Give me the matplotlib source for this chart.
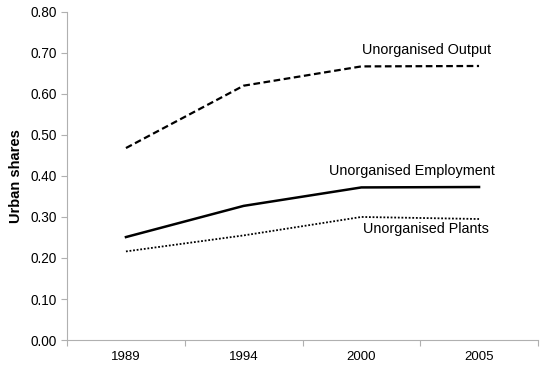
import numpy as np
import matplotlib.pyplot as plt

plt.rcParams['font.family'] = ['Liberation Sans', 'DejaVu Sans']

years = ["1989", "1994", "2000", "2005"]
output_share = [0.468, 0.620, 0.667, 0.668]
employment_share = [0.251, 0.327, 0.372, 0.373]
plants_share = [0.216, 0.255, 0.300, 0.295]

fig = plt.figure(figsize=(5.5, 3.7), dpi=100)
ax = fig.add_axes([0.122, 0.081, 0.856, 0.887])

x = np.arange(len(years))
ax.plot(x, output_share, color="black", lw=1.6, ls=(0, (3, 1.6)))
ax.plot(x, employment_share, color="black", lw=1.8, ls="-")
ax.plot(x, plants_share, color="black", lw=1.3, ls=(0, (1, 1)))

ax.text(2.55, 0.707, "Unorganised Output", ha="center", va="center", fontsize=10.4)
ax.text(2.43, 0.411, "Unorganised Employment", ha="center", va="center", fontsize=10.4)
ax.text(2.55, 0.270, "Unorganised Plants", ha="center", va="center", fontsize=10.4)

ax.set_xlim(-0.5, 3.5)
ax.set_ylim(0, 0.8)
ax.set_yticks(np.arange(0, 0.81, 0.1))
ax.set_yticklabels([f"{v:.2f}" for v in np.arange(0, 0.81, 0.1)], fontsize=9.8)
ax.set_xticks(np.arange(-0.5, 3.6, 1))
ax.set_xticklabels([])
ax.set_xticks(x, minor=True)
ax.set_xticklabels(years, minor=True, fontsize=9.5)
ax.tick_params(axis="x", which="minor", length=0, pad=8)
ax.tick_params(axis="both", which="major", length=4, color="#b0b0b0")
ax.set_ylabel("Urban shares", fontsize=10.5, fontweight="bold", labelpad=5)

for s in ["top", "right"]:
    ax.spines[s].set_visible(False)
for s in ["left", "bottom"]:
    ax.spines[s].set_color("#b0b0b0")

fig.savefig("out.png", dpi=100)
